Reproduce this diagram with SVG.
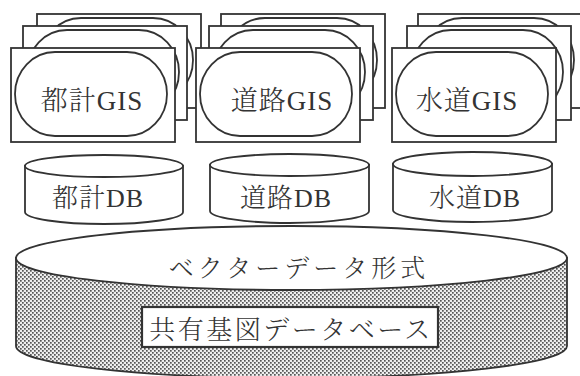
<svg xmlns="http://www.w3.org/2000/svg" xmlns:xlink="http://www.w3.org/1999/xlink" width="580" height="376" viewBox="0 0 580 376">
<style>
.ln{fill:#fff;stroke:#333;stroke-width:1.8}
.tx{font-family:"Liberation Serif","Noto Serif CJK JP","Noto Sans CJK JP",serif;fill:#333;text-anchor:middle;font-weight:400}
.cj{font-family:"Noto Serif CJK JP","Noto Sans CJK JP",sans-serif;font-weight:300}
.lbl{font-size:27px;letter-spacing:1px}
.db{font-size:26px;letter-spacing:1px}
</style>
<defs>
<g id="card">
<rect class="ln" x="0" y="0" width="164" height="94"/>
<rect class="ln" x="4" y="4" width="152" height="84" rx="40" ry="42"/>
</g>
<pattern id="dots" width="4" height="4" patternUnits="userSpaceOnUse">
<rect width="4" height="4" fill="#eeeeee"/>
<rect x="0" y="0" width="1.7" height="1.7" fill="#555"/>
<rect x="2" y="2" width="1.7" height="1.7" fill="#555"/>
</pattern>
</defs>
<rect width="580" height="376" fill="#fff"/>
<g id="gis-toshi">
<use xlink:href="#card" href="#card" x="37" y="14"/>
<use xlink:href="#card" href="#card" x="23" y="26"/>
<use xlink:href="#card" href="#card" x="11" y="48"/>
<text class="tx lbl" x="92" y="110"><tspan class="cj">都計</tspan>GIS</text>
</g>
<g id="gis-douro">
<use xlink:href="#card" href="#card" x="221" y="14"/>
<use xlink:href="#card" href="#card" x="209" y="26"/>
<use xlink:href="#card" href="#card" x="196" y="48"/>
<text class="tx lbl" x="282" y="110"><tspan class="cj">道路</tspan>GIS</text>
</g>
<g id="gis-suidou">
<use xlink:href="#card" href="#card" x="418" y="14"/>
<use xlink:href="#card" href="#card" x="407" y="26"/>
<use xlink:href="#card" href="#card" x="392" y="48"/>
<text class="tx lbl" x="467" y="110"><tspan class="cj">水道</tspan>GIS</text>
</g>
<g id="db-toshi">
<path class="ln" d="M25,166 L25,212 A79,12 0 0 0 183,212 L183,166 Z"/>
<ellipse class="ln" cx="104" cy="166" rx="79" ry="11"/>
<text class="tx db" x="98" y="207"><tspan class="cj">都計</tspan>DB</text>
</g>
<g id="db-douro">
<path class="ln" d="M210,165 L210,211 A79.5,12 0 0 0 369,211 L369,165 Z"/>
<ellipse class="ln" cx="289.5" cy="165" rx="79.5" ry="11"/>
<text class="tx db" x="286" y="207"><tspan class="cj">道路</tspan>DB</text>
</g>
<g id="db-suidou">
<path class="ln" d="M393,164 L393,210 A79.5,12 0 0 0 552,210 L552,164 Z"/>
<ellipse class="ln" cx="472.5" cy="164" rx="79.5" ry="12"/>
<text class="tx db" x="475" y="207"><tspan class="cj">水道</tspan>DB</text>
</g>
<g id="shared-db">
<path d="M16,258 L16,346 A275.5,32 0 0 0 567,346 L567,258 Z" fill="url(#dots)" stroke="#333" stroke-width="1.8"/>
<ellipse class="ln" cx="291.5" cy="258" rx="275.5" ry="32"/>
<text class="tx cj" x="299" y="277" font-size="25" letter-spacing="4">ベクターデータ形式</text>
<rect x="142" y="307" width="296" height="40" fill="#fff" stroke="#333" stroke-width="2.2"/>
<text class="tx cj" x="291" y="339" font-size="26" letter-spacing="2.5">共有基図データベース</text>
</g>
</svg>
